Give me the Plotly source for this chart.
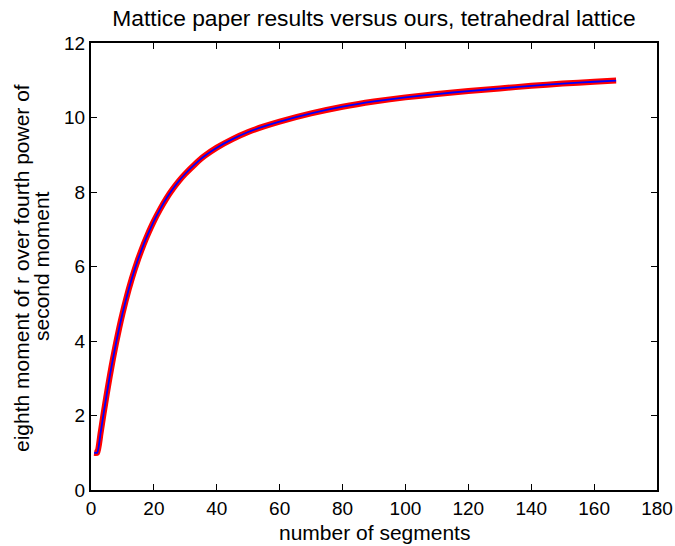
import plotly.graph_objects as go

# Number of segments in the chain
segments = [1, 2, 3, 4, 5, 6, 7, 8, 9, 10, 11, 12, 13, 14, 15, 16, 17, 18, 19,
            20, 22, 24, 26, 28, 30, 33, 36, 40, 45, 50, 55, 60, 70, 80, 90,
            100, 110, 120, 130, 140, 150, 160, 167]

# <r^8> / <r^2>^4 from the Mattice paper
mattice_ratio = [1.00, 1.00, 1.50, 2.05, 2.57, 3.07, 3.53, 3.96, 4.36, 4.73,
                 5.07, 5.39, 5.68, 5.95, 6.20, 6.43, 6.65, 6.85, 7.04, 7.22,
                 7.54, 7.83, 8.08, 8.30, 8.49, 8.74, 8.96, 9.19, 9.42, 9.61,
                 9.76, 9.89, 10.11, 10.29, 10.43, 10.54, 10.63, 10.71, 10.78,
                 10.85, 10.91, 10.96, 10.99]

# Our computed <r^8> / <r^2>^4
our_ratio = [1.00, 1.00, 1.50, 2.05, 2.57, 3.07, 3.53, 3.96, 4.36, 4.73,
             5.07, 5.39, 5.68, 5.95, 6.20, 6.43, 6.65, 6.85, 7.04, 7.22,
             7.54, 7.83, 8.08, 8.30, 8.49, 8.74, 8.96, 9.19, 9.42, 9.61,
             9.76, 9.89, 10.11, 10.29, 10.43, 10.54, 10.63, 10.71, 10.78,
             10.85, 10.91, 10.96, 10.99]

x_ticks = [0, 20, 40, 60, 80, 100, 120, 140, 160, 180]
y_ticks = [0, 2, 4, 6, 8, 10, 12]

FONT = "Liberation Sans, Arial, sans-serif"

# Plot area in pixels
W, H = 675, 546
L, R, T, B = 91, 18, 43, 56
PW, PH = W - L - R, H - T - B


def px_x(px):
    return (px - L) / PW


def px_y(py):
    return (H - B - py) / PH


fig = go.Figure()
fig.add_trace(go.Scatter(
    x=segments, y=mattice_ratio, mode="lines", name="Mattice",
    line=dict(color="#ff0000", width=6, shape="spline", smoothing=0.5),
))
fig.add_trace(go.Scatter(
    x=segments, y=our_ratio, mode="lines", name="ours",
    line=dict(color="#0000ff", width=1.8, shape="spline", smoothing=0.5),
))

axis_common = dict(
    showline=True, linecolor="black", linewidth=2, mirror="ticks",
    ticks="inside", ticklen=6, tickwidth=1.2, tickcolor="black",
    showgrid=False, zeroline=False, automargin=False,
    tickfont=dict(family=FONT, size=19, color="black"),
)

label_font = dict(family=FONT, size=21, color="black")

fig.update_layout(
    width=W, height=H,
    margin=dict(l=L, r=R, t=T, b=B),
    paper_bgcolor="white", plot_bgcolor="white",
    showlegend=False,
    font=dict(family=FONT, color="black"),
    title=dict(
        text="Mattice paper results versus ours, tetrahedral lattice",
        x=(L + W - R) / 2 / W, xanchor="center",
        y=1 - 18 / H, yanchor="middle",
        font=dict(family=FONT, size=22.8, color="black"),
    ),
    xaxis=dict(range=[0, 180], tickvals=x_ticks, **axis_common),
    yaxis=dict(range=[0, 12], tickvals=y_ticks, **axis_common),
    annotations=[
        dict(text="number of segments", xref="paper", yref="paper",
             x=0.5, y=px_y(532), xanchor="center", yanchor="middle",
             showarrow=False, font=label_font),
        dict(text="eighth moment of r over fourth power of",
             xref="paper", yref="paper", x=px_x(21), y=px_y(268),
             xanchor="center", yanchor="middle", textangle=-90,
             showarrow=False, font=label_font),
        dict(text="second moment",
             xref="paper", yref="paper", x=px_x(41), y=px_y(266),
             xanchor="center", yanchor="middle", textangle=-90,
             showarrow=False, font=label_font),
    ],
)

fig.write_html("out.html")
